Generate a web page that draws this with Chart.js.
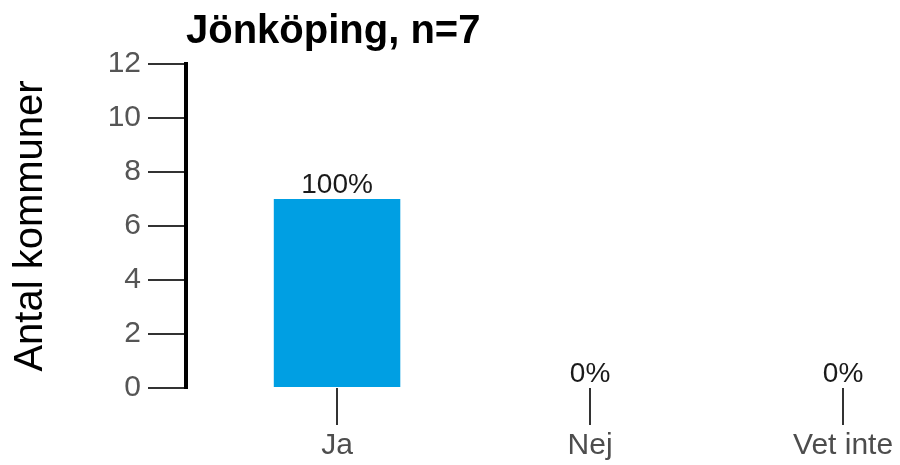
<!DOCTYPE html>
<html>
<head>
<meta charset="utf-8">
<script src="https://cdn.jsdelivr.net/npm/chart.js@4"></script>
<style>
  body { margin: 0; background: #fff; }
  #wrap { width: 900px; height: 465px; }
</style>
</head>
<body>
<div id="wrap"><canvas id="myChart"></canvas></div>
<script>
var categories = ['Ja', 'Nej', 'Vet inte'];
var counts = [7, 0, 0];
var percents = [100, 0, 0];
var yTicks = [0, 2, 4, 6, 8, 10, 12];

// labels like "100%" above each bar
var barLabels = {
    id: 'barLabels',
    afterDatasetsDraw: function(chart) {
        var ctx = chart.ctx;
        var meta = chart.getDatasetMeta(0);
        ctx.save();
        ctx.font = '28px "Liberation Sans", Arial, sans-serif';
        ctx.fillStyle = '#1a1a1a';
        ctx.textAlign = 'center';
        ctx.textBaseline = 'alphabetic';
        meta.data.forEach(function(bar, i) {
            ctx.fillText(percents[i] + '%', bar.x, bar.y - 6);
        });
        ctx.restore();
    }
};

var ctx = document.getElementById('myChart').getContext('2d');
var myChart = new Chart(ctx, {
    type: 'bar',
    data: {
        datasets: [{
            data: counts.map(function(v, i) { return { x: i, y: v }; }),
            backgroundColor: '#009fe3',
            borderWidth: 0,
            categoryPercentage: 1,
            barPercentage: 0.5
        }]
    },
    options: {
        responsive: true,
        maintainAspectRatio: false,
        animation: false,
        layout: { padding: 0 },
        plugins: {
            legend: { display: false },
            tooltip: { enabled: false },
            title: {
                display: true,
                text: 'Jönköping, n=7',
                align: 'start',
                fullSize: false,
                color: '#000',
                font: { family: '"Liberation Sans", Arial, sans-serif', size: 40, weight: 'bold' },
                padding: { top: 8, bottom: 8 }
            }
        },
        scales: {
            x: {
                type: 'linear',
                min: -0.597,
                max: 2.225,
                offset: false,
                afterBuildTicks: function(scale) {
                    scale.ticks = categories.map(function(c, i) { return { value: i }; });
                },
                afterFit: function(scale) { scale.height = 77; },
                border: { display: false },
                grid: {
                    offset: false,
                    drawOnChartArea: false,
                    drawTicks: true,
                    tickLength: 37,
                    color: '#333',
                    lineWidth: 2
                },
                ticks: {
                    autoSkip: false,
                    maxRotation: 0,
                    padding: 3,
                    color: '#4d4d4d',
                    font: { family: '"Liberation Sans", Arial, sans-serif', size: 30 },
                    callback: function(value) { return categories[value]; }
                }
            },
            y: {
                min: 0,
                max: 12,
                afterBuildTicks: function(scale) {
                    scale.ticks = yTicks.map(function(v) { return { value: v }; });
                },
                afterFit: function(scale) { scale.width = 186; },
                border: { display: true, color: '#000', width: 4 },
                grid: {
                    drawOnChartArea: false,
                    tickLength: 38,
                    color: '#333',
                    lineWidth: 2
                },
                ticks: {
                    padding: 7,
                    color: '#555',
                    font: { family: '"Liberation Sans", Arial, sans-serif', size: 30 }
                },
                title: {
                    display: true,
                    text: 'Antal kommuner',
                    color: '#000',
                    font: { family: '"Liberation Sans", Arial, sans-serif', size: 40 },
                    padding: { top: 7, bottom: 0 }
                }
            }
        }
    },
    plugins: [barLabels]
});
</script>
</body>
</html>
